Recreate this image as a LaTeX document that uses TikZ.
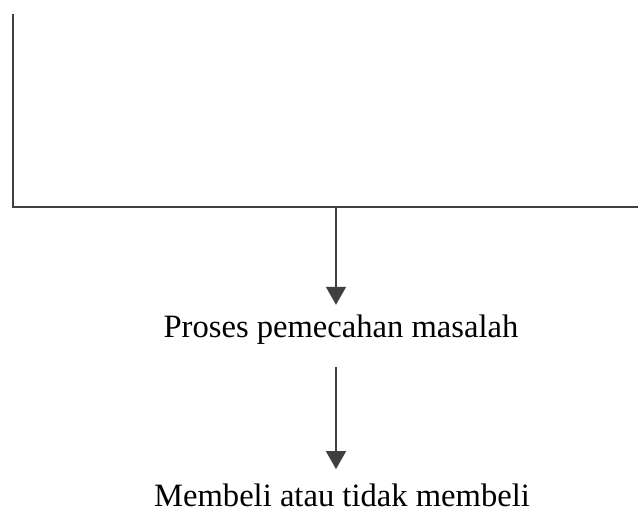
\documentclass[tikz,border=0pt]{standalone}
\usepackage{fontspec}
\setmainfont{Liberation Serif}
\usetikzlibrary{arrows.meta,
    positioning}

\tikzset{
  garis/.style={draw=black!75, line width=0.8pt},
  panah/.style={garis, -{Triangle[length=9pt,width=10pt]}},
  teks/.style={font=\fontsize{16.3}{19}\selectfont, inner sep=2pt}
}

\begin{document}
\begin{tikzpicture}[x=0.5pt,y=0.5pt]
  \useasboundingbox (0,0) rectangle (638,513);
  % kotak atas
  \coordinate (kiriatas) at (13,499);
  \coordinate (kiribawah) at (13,306);
  \coordinate (kananbawah) at (638,306);
  \coordinate (cabang) at (336,306);
  \draw[garis] (kiriatas) -- (kiribawah) -- (kananbawah);

  \node[teks] (proses) at (341,183) {Proses pemecahan masalah};
  \node[teks] (membeli) at (342,18) {Membeli atau tidak membeli};

  \draw[panah, shorten >=3pt] (cabang) -- (cabang |- proses.north);
  \draw[panah, shorten <=9pt, shorten >=5pt] (proses.south -| cabang) -- (membeli.north -| cabang);
\end{tikzpicture}
\end{document}
